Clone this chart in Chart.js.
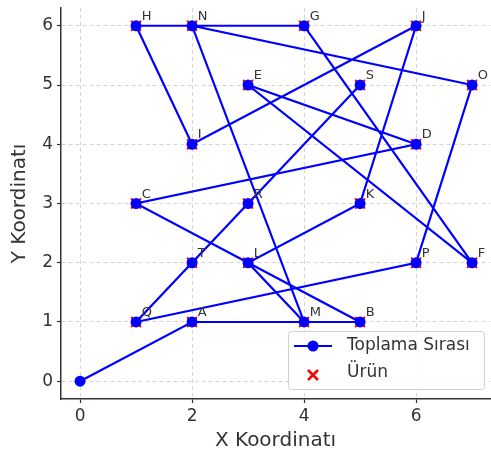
<!DOCTYPE html>
<html>
<head>
<meta charset="utf-8">
<script src="https://cdn.jsdelivr.net/npm/chart.js@4/dist/chart.umd.min.js"></script>
<style>
  html, body { margin: 0; padding: 0; background: #fff; }
  #wrap { width: 491px; height: 457px; }
</style>
</head>
<body>
<div id="wrap"><canvas id="chart" width="491" height="457"></canvas></div>
<script>
// ── Data ───────────────────────────────────────────────
const START = [0, 0];
const PRODUCT_NAMES = ['A','B','C','D','E','F','G','H','I','J','K','L','M','N','O','P','Q','R','S','T'];
const PRODUCT_X     = [ 2,  5,  1,  6,  3,  7,  4,  1,  2,  6,  5,  3,  4,  2,  7,  6,  1,  3,  5,  2 ];
const PRODUCT_Y     = [ 1,  1,  3,  4,  5,  2,  6,  6,  4,  6,  3,  2,  1,  6,  5,  2,  1,  3,  5,  2 ];
// visiting order (by product name), starting from START
const ROUTE = ['A','B','C','D','E','F','G','H','I','J','K','L','M','N','O','P','Q','R','S','T'];

const X_TICKS = [0, 2, 4, 6];
const Y_TICKS = [0, 1, 2, 3, 4, 5, 6];

const FONT = "'DejaVu Sans', sans-serif";
const TXT  = '#333';

// ── Build datasets ─────────────────────────────────────
const products = PRODUCT_NAMES.map((n, i) => ({ x: PRODUCT_X[i], y: PRODUCT_Y[i], name: n }));
const route = [{ x: START[0], y: START[1] }].concat(
  ROUTE.map(n => { const i = PRODUCT_NAMES.indexOf(n); return { x: PRODUCT_X[i], y: PRODUCT_Y[i] }; })
);

// ── Plugins ────────────────────────────────────────────
const pointLabels = {
  id: 'pointLabels',
  afterDatasetsDraw(chart) {
    const { ctx, scales: { x, y } } = chart;
    ctx.save();
    ctx.font = '13px ' + FONT;
    ctx.fillStyle = TXT;
    ctx.textAlign = 'left';
    ctx.textBaseline = 'alphabetic';
    products.forEach(p => {
      ctx.fillText(p.name, x.getPixelForValue(p.x + 0.1), y.getPixelForValue(p.y + 0.1));
    });
    ctx.restore();
  }
};

const boxLegend = {
  id: 'boxLegend',
  afterDraw(chart) {
    const { ctx } = chart;
    const ds = chart.data.datasets;
    const bx = 288.5, by = 331.5, bw = 196, bh = 58;
    ctx.save();
    ctx.fillStyle = 'rgba(255,255,255,0.85)';
    ctx.strokeStyle = '#d0d0d0';
    ctx.lineWidth = 1;
    ctx.beginPath();
    ctx.roundRect(bx, by, bw, bh, 3);
    ctx.fill();
    ctx.stroke();

    // line + marker
    ctx.strokeStyle = ds[0].borderColor;
    ctx.lineWidth = 2.2;
    ctx.beginPath();
    ctx.moveTo(294, 346); ctx.lineTo(332, 346);
    ctx.stroke();
    ctx.fillStyle = ds[0].pointBackgroundColor;
    ctx.beginPath();
    ctx.arc(313, 346, 5.5, 0, Math.PI * 2);
    ctx.fill();

    // red x
    ctx.strokeStyle = ds[1].borderColor;
    ctx.lineWidth = 2.5;
    ctx.beginPath();
    ctx.moveTo(308, 370); ctx.lineTo(318, 380);
    ctx.moveTo(318, 370); ctx.lineTo(308, 380);
    ctx.stroke();

    ctx.fillStyle = TXT;
    ctx.font = '17px ' + FONT;
    ctx.textBaseline = 'middle';
    ctx.fillText(ds[0].label, 347, 346);
    ctx.fillText(ds[1].label, 347, 373);
    ctx.restore();
  }
};

// ── Chart ──────────────────────────────────────────────
const gridOpts = {
  color: '#d4d4d4',
  lineWidth: 1,
  tickColor: TXT,
  tickBorderDash: [],
  tickWidth: 1.2,
  tickLength: 4
};
const borderOpts = { display: true, color: TXT, width: 1.5, dash: [4, 3] };

new Chart(document.getElementById('chart'), {
  type: 'scatter',
  data: {
    datasets: [
      {
        label: 'Toplama Sırası',
        data: route,
        showLine: true,
        borderColor: '#0000ff',
        borderWidth: 2.2,
        pointBackgroundColor: '#0000ff',
        pointBorderColor: '#0000ff',
        pointRadius: 5.5,
        pointBorderWidth: 0,
        order: 1
      },
      {
        label: 'Ürün',
        data: products,
        pointStyle: 'crossRot',
        borderColor: '#ff0000',
        backgroundColor: '#ff0000',
        pointRadius: 7,
        pointBorderWidth: 2,
        order: 2
      }
    ]
  },
  options: {
    responsive: false,
    animation: false,
    layout: { autoPadding: false, padding: { top: 8, right: 1, left: 0, bottom: 0 } },
    plugins: { legend: { display: false }, tooltip: { enabled: false } },
    scales: {
      x: {
        type: 'linear',
        min: -0.34,
        max: 7.32,
        afterBuildTicks: s => { s.ticks = X_TICKS.map(v => ({ value: v })); },
        afterFit: s => { s.height = 58; s.paddingLeft = 0; s.paddingRight = 0; },
        grid: gridOpts,
        border: borderOpts,
        ticks: { color: TXT, font: { family: FONT, size: 17 }, padding: 3, maxRotation: 0 },
        title: { display: true, text: 'X Koordinatı', color: TXT, font: { family: FONT, size: 20 }, padding: { top: 0 } }
      },
      y: {
        type: 'linear',
        min: -0.3,
        max: 6.3,
        afterBuildTicks: s => { s.ticks = Y_TICKS.map(v => ({ value: v })); },
        afterFit: s => { s.width = 61; s.paddingTop = 0; s.paddingBottom = 0; },
        grid: gridOpts,
        border: borderOpts,
        ticks: { color: TXT, font: { family: FONT, size: 17 }, padding: 4 },
        title: { display: true, text: 'Y Koordinatı', color: TXT, font: { family: FONT, size: 20 }, padding: { top: 8, bottom: 4 } }
      }
    }
  },
  plugins: [pointLabels, boxLegend]
});
</script>
</body>
</html>
